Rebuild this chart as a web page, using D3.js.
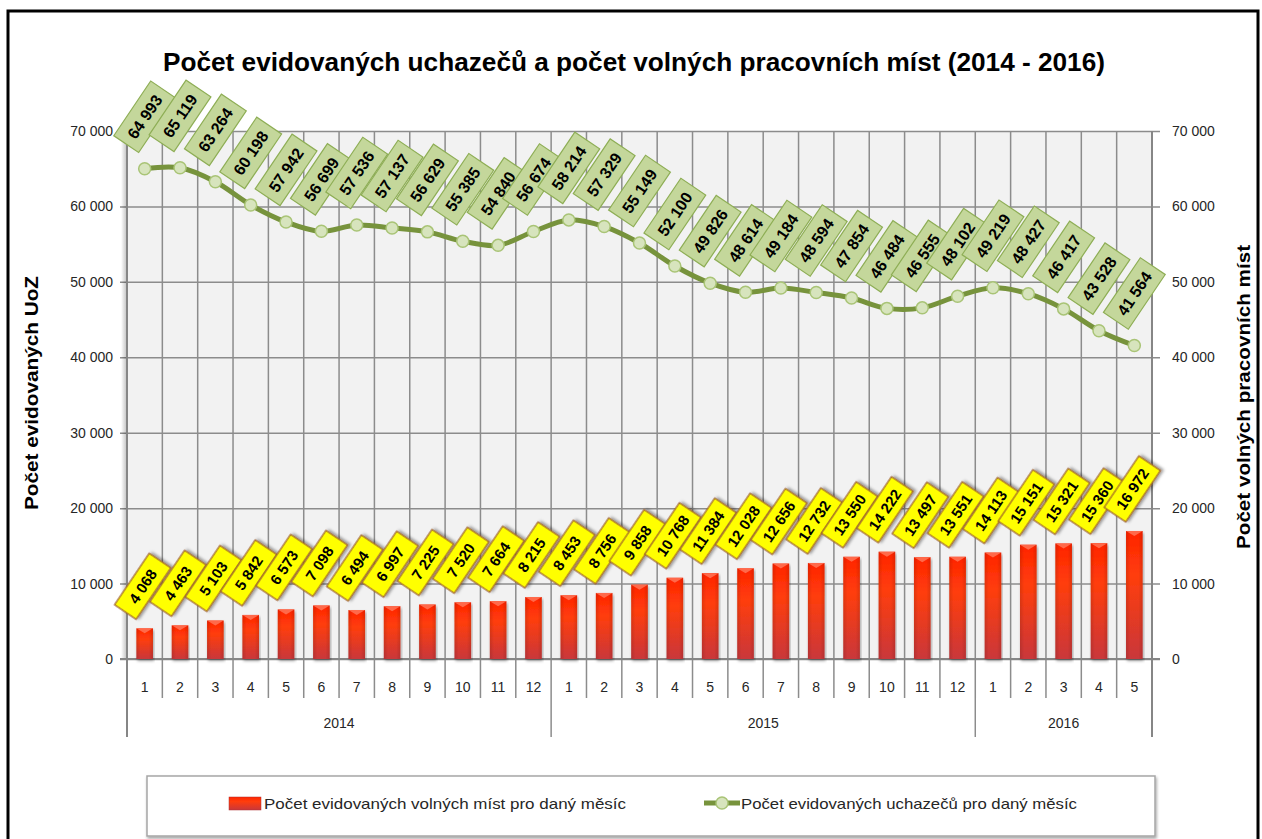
<!DOCTYPE html>
<html>
<head>
<meta charset="utf-8">
<script src="https://cdn.jsdelivr.net/npm/d3@7"></script>
<style>
  body { margin: 0; background: #fff; }
  svg { display: block; font-family: "Liberation Sans", Arial, sans-serif; }
</style>
</head>
<body>
<div id="chart"></div>
<script>
// data
var months = [1,2,3,4,5,6,7,8,9,10,11,12, 1,2,3,4,5,6,7,8,9,10,11,12, 1,2,3,4,5];
var years = ["2014", "2015", "2016"];
var yearMonths = [12, 12, 5];

// Počet evidovaných uchazečů (line, left axis)
var uchazeci = [64993, 65119, 63264, 60198, 57942, 56699, 57536, 57137, 56629, 55385, 54840, 56674,
                58214, 57329, 55149, 52100, 49826, 48614, 49184, 48594, 47854, 46484, 46555, 48102,
                49219, 48427, 46417, 43528, 41564];
// Počet volných míst (bars, right axis)
var volnaMista = [4068, 4463, 5103, 5842, 6573, 7098, 6494, 6997, 7225, 7520, 7664, 8215,
                  8453, 8756, 9858, 10768, 11384, 12028, 12656, 12732, 13550, 14222, 13497, 13551,
                  14113, 15151, 15321, 15360, 16972];
var yTicks = [0, 10000, 20000, 30000, 40000, 50000, 60000, 70000];

var titleText = "Počet evidovaných uchazečů a počet volných pracovních míst (2014 - 2016)";
var leftTitle = "Počet evidovaných UoZ";
var rightTitle = "Počet volných pracovních míst";
var legendBars = "Počet evidovaných volných míst pro daný měsíc";
var legendLine = "Počet evidovaných uchazečů pro daný měsíc";

function init() {
  var W = 1262, H = 839;
  var left = 127, right = 1152, top = 131, bottom = 659;
  var monthRow = 698, yearRow = 737;
  var labelAngle = -56;

  var fmt = d3.formatLocale({decimal: ",", thousands: " ", grouping: [3], currency: ["", ""]}).format(",");

  var svg = d3.select("#chart").append("svg")
    .attr("width", W)
    .attr("height", H);

  var defs = svg.append("defs");

  var barGrad = defs.append("linearGradient")
    .attr("id", "barGrad")
    .attr("x1", 0).attr("y1", 0).attr("x2", 0).attr("y2", 1);
  barGrad.append("stop").attr("offset", "0%").attr("stop-color", "#ff2400");
  barGrad.append("stop").attr("offset", "35%").attr("stop-color", "#ff3d0c");
  barGrad.append("stop").attr("offset", "100%").attr("stop-color", "#c9373b");

  var sideGrad = defs.append("linearGradient")
    .attr("id", "sideGrad")
    .attr("x1", 0).attr("y1", 0).attr("x2", 1).attr("y2", 0);
  sideGrad.append("stop").attr("offset", "0%").attr("stop-color", "#000").attr("stop-opacity", 0.12);
  sideGrad.append("stop").attr("offset", "25%").attr("stop-color", "#000").attr("stop-opacity", 0);
  sideGrad.append("stop").attr("offset", "75%").attr("stop-color", "#000").attr("stop-opacity", 0);
  sideGrad.append("stop").attr("offset", "100%").attr("stop-color", "#000").attr("stop-opacity", 0.12);

  var axisShadow = defs.append("linearGradient")
    .attr("id", "axisShadow")
    .attr("x1", 0).attr("y1", 0).attr("x2", 1).attr("y2", 0);
  axisShadow.append("stop").attr("offset", "0%").attr("stop-color", "#000").attr("stop-opacity", 0);
  axisShadow.append("stop").attr("offset", "100%").attr("stop-color", "#000").attr("stop-opacity", 0.25);

  var shadow = defs.append("filter").attr("id", "shadow")
    .attr("x", "-30%").attr("y", "-30%").attr("width", "160%").attr("height", "160%");
  shadow.append("feDropShadow")
    .attr("dx", 2).attr("dy", 2).attr("stdDeviation", 1.6)
    .attr("flood-color", "#000").attr("flood-opacity", 0.4);

  var softShadow = defs.append("filter").attr("id", "softShadow")
    .attr("x", "-10%").attr("y", "-10%").attr("width", "120%").attr("height", "130%");
  softShadow.append("feDropShadow")
    .attr("dx", 1).attr("dy", 2).attr("stdDeviation", 1.5)
    .attr("flood-color", "#000").attr("flood-opacity", 0.35);

  // outer frame
  svg.append("rect")
    .attr("x", 8).attr("y", 11)
    .attr("width", 1250).attr("height", 850)
    .style("fill", "white")
    .style("stroke", "#000")
    .style("stroke-width", 3);

  // scales
  var x = d3.scaleBand()
    .domain(d3.range(months.length))
    .range([left, right]);

  var xb = d3.scaleBand()
    .domain(d3.range(months.length))
    .range([left, right])
    .paddingInner(0.53)
    .paddingOuter(0.265);

  var yL = d3.scaleLinear().domain([0, 70000]).range([bottom, top]);
  var yR = d3.scaleLinear().domain([0, 70000]).range([bottom, top]);

  // plot background
  svg.append("rect")
    .attr("x", left).attr("y", top)
    .attr("width", right - left).attr("height", bottom - top)
    .style("fill", "#f2f2f2");

  // horizontal grid + left ticks
  svg.append("g")
    .attr("transform", "translate(" + left + ",0)")
    .call(d3.axisLeft(yL).tickValues(yTicks).tickSize(-(right - left + 8)).tickPadding(14).tickFormat(fmt))
    .call(function(g) {
      g.select(".domain").remove();
      g.selectAll(".tick line")
        .attr("x1", -7)
        .style("stroke", "#8c8c8c")
        .style("stroke-width", 1.5);
      g.selectAll(".tick text")
        .style("font-size", "14px")
        .style("fill", "#262626");
    });

  svg.append("g")
    .attr("transform", "translate(" + right + ",0)")
    .call(d3.axisRight(yR).tickValues(yTicks).tickSize(0).tickPadding(20).tickFormat(fmt))
    .call(function(g) {
      g.select(".domain").remove();
      g.selectAll(".tick text")
        .style("font-size", "14px")
        .style("fill", "#262626");
    });

  // vertical category lines
  var bounds = d3.range(months.length + 1).map(function(i) {
    return i < months.length ? x(i) : right;
  });
  svg.append("g").selectAll("line")
    .data(bounds)
    .enter()
    .append("line")
      .attr("x1", function(d) { return d; })
      .attr("x2", function(d) { return d; })
      .attr("y1", top)
      .attr("y2", monthRow)
      .style("stroke", "#8c8c8c")
      .style("stroke-width", 1.5);

  // year separators
  var yearStart = [0];
  yearMonths.forEach(function(n, i) { yearStart.push(yearStart[i] + n); });
  svg.append("g").selectAll("line")
    .data(yearStart)
    .enter()
    .append("line")
      .attr("x1", function(d) { return bounds[d]; })
      .attr("x2", function(d) { return bounds[d]; })
      .attr("y1", monthRow)
      .attr("y2", yearRow)
      .style("stroke", "#8c8c8c")
      .style("stroke-width", 1.5);

  // axis lines
  svg.append("rect")
    .attr("x", left - 6).attr("y", top)
    .attr("width", 6).attr("height", bottom - top)
    .style("fill", "url(#axisShadow)");
  [left, right].forEach(function(xx) {
    svg.append("line")
      .attr("x1", xx).attr("x2", xx)
      .attr("y1", top).attr("y2", yearRow)
      .style("stroke", "#868686")
      .style("stroke-width", 2);
  });
  svg.append("line")
    .attr("x1", left - 7).attr("x2", right + 8)
    .attr("y1", bottom).attr("y2", bottom)
    .style("stroke", "#868686")
    .style("stroke-width", 2);

  // month labels
  svg.append("g").selectAll("text")
    .data(months)
    .enter()
    .append("text")
      .attr("x", function(d, i) { return x(i) + x.bandwidth() / 2; })
      .attr("y", 687)
      .attr("dy", "0.35em")
      .attr("text-anchor", "middle")
      .style("font-size", "14px")
      .style("fill", "#262626")
      .text(function(d) { return d; });

  // year labels
  svg.append("g").selectAll("text")
    .data(years)
    .enter()
    .append("text")
      .attr("x", function(d, i) { return (bounds[yearStart[i]] + bounds[yearStart[i + 1]]) / 2; })
      .attr("y", 723)
      .attr("dy", "0.35em")
      .attr("text-anchor", "middle")
      .style("font-size", "14px")
      .style("fill", "#262626")
      .text(function(d) { return d; });

  // bars
  var bars = svg.append("g").selectAll("g.bar")
    .data(volnaMista)
    .enter()
    .append("g")
    .attr("class", "bar");

  bars.append("rect")
    .attr("x", function(d, i) { return xb(i); })
    .attr("y", function(d) { return yR(d); })
    .attr("width", xb.bandwidth())
    .attr("height", function(d) { return bottom - yR(d); })
    .attr("filter", "url(#softShadow)")
    .style("fill", "url(#barGrad)");

  bars.append("rect")
    .attr("x", function(d, i) { return xb(i); })
    .attr("y", function(d) { return yR(d); })
    .attr("width", xb.bandwidth())
    .attr("height", function(d) { return bottom - yR(d); })
    .style("fill", "url(#sideGrad)");

  bars.append("path")
    .attr("d", function(d, i) {
      var x0 = xb(i), w = xb.bandwidth(), y0 = yR(d);
      return "M" + x0 + "," + y0 + "L" + (x0 + w) + "," + y0 + "L" + (x0 + w / 2) + "," + (y0 + 5) + "Z";
    })
    .style("fill", "#ff7a5c")
    .style("opacity", 0.8);

  // line
  var cx = function(i) { return x(i) + x.bandwidth() / 2; };

  var line = d3.line()
    .x(function(d, i) { return cx(i); })
    .y(function(d) { return yL(d); })
    .curve(d3.curveCatmullRom.alpha(0.5));

  svg.append("path")
    .datum(uchazeci)
    .attr("d", line)
    .style("fill", "none")
    .style("stroke", "#77933c")
    .style("stroke-width", 5);

  svg.append("g").selectAll("circle")
    .data(uchazeci)
    .enter()
    .append("circle")
      .attr("cx", function(d, i) { return cx(i); })
      .attr("cy", function(d) { return yL(d); })
      .attr("r", 6)
      .style("fill", "#d7e4bd")
      .style("stroke", "#a9c476")
      .style("stroke-width", 1.5);

  // yellow labels for bars
  var barLabels = svg.append("g").selectAll("g")
    .data(volnaMista)
    .enter()
    .append("g")
    .attr("transform", function(d, i) {
      return "translate(" + (cx(i) - 2) + "," + (yR(d) - 42) + ") rotate(" + labelAngle + ")";
    });

  barLabels.append("rect")
    .attr("x", -31).attr("y", -13)
    .attr("width", 62).attr("height", 26)
    .attr("filter", "url(#shadow)")
    .style("fill", "#ffff00")
    .style("stroke", "#9c5a2a")
    .style("stroke-width", 1.2);

  barLabels.append("text")
    .attr("text-anchor", "middle")
    .attr("dy", "0.36em")
    .style("font-size", "15px")
    .style("font-weight", "bold")
    .style("fill", "#000")
    .text(function(d) { return fmt(d); });

  // green labels for line
  var lineLabels = svg.append("g").selectAll("g")
    .data(uchazeci)
    .enter()
    .append("g")
    .attr("transform", function(d, i) {
      return "translate(" + cx(i) + "," + (yL(d) - 52) + ") rotate(" + labelAngle + ")";
    });

  lineLabels.append("rect")
    .attr("x", -33).attr("y", -15)
    .attr("width", 66).attr("height", 30)
    .style("fill", "#c4d79b")
    .style("stroke", "#8eae55")
    .style("stroke-width", 1.2);

  lineLabels.append("text")
    .attr("text-anchor", "middle")
    .attr("dy", "0.36em")
    .style("font-size", "16px")
    .style("font-weight", "bold")
    .style("fill", "#000")
    .text(function(d) { return fmt(d); });

  // titles
  svg.append("text")
    .attr("x", 163)
    .attr("y", 71)
    .attr("textLength", 942)
    .attr("lengthAdjust", "spacingAndGlyphs")
    .style("font-size", "26px")
    .style("font-weight", "bold")
    .style("fill", "#000")
    .text(titleText);

  svg.append("text")
    .attr("transform", "translate(38,393) rotate(-90)")
    .attr("text-anchor", "middle")
    .attr("textLength", 234)
    .attr("lengthAdjust", "spacingAndGlyphs")
    .style("font-size", "18px")
    .style("font-weight", "bold")
    .style("fill", "#000")
    .text(leftTitle);

  svg.append("text")
    .attr("transform", "translate(1250,397) rotate(-90)")
    .attr("text-anchor", "middle")
    .attr("textLength", 304)
    .attr("lengthAdjust", "spacingAndGlyphs")
    .style("font-size", "18px")
    .style("font-weight", "bold")
    .style("fill", "#000")
    .text(rightTitle);

  // legend
  var legend = svg.append("g");
  legend.append("rect")
    .attr("x", 147).attr("y", 776)
    .attr("width", 1008).attr("height", 60)
    .attr("filter", "url(#softShadow)")
    .style("fill", "white")
    .style("stroke", "#a6a6a6")
    .style("stroke-width", 1.5);

  legend.append("rect")
    .attr("x", 229).attr("y", 797)
    .attr("width", 32).attr("height", 13)
    .style("fill", "url(#barGrad)")
    .style("stroke", "#b03030")
    .style("stroke-width", 0.5);

  legend.append("text")
    .attr("x", 264).attr("y", 809)
    .attr("textLength", 362)
    .attr("lengthAdjust", "spacingAndGlyphs")
    .style("font-size", "15px")
    .style("fill", "#262626")
    .text(legendBars);

  legend.append("line")
    .attr("x1", 704).attr("x2", 740)
    .attr("y1", 803).attr("y2", 803)
    .style("stroke", "#77933c")
    .style("stroke-width", 5);
  legend.append("circle")
    .attr("cx", 722).attr("cy", 803).attr("r", 6)
    .style("fill", "#d7e4bd")
    .style("stroke", "#a9c476")
    .style("stroke-width", 1.5);

  legend.append("text")
    .attr("x", 741).attr("y", 809)
    .attr("textLength", 336)
    .attr("lengthAdjust", "spacingAndGlyphs")
    .style("font-size", "15px")
    .style("fill", "#262626")
    .text(legendLine);
}

window.onload = init;
</script>
</body>
</html>
